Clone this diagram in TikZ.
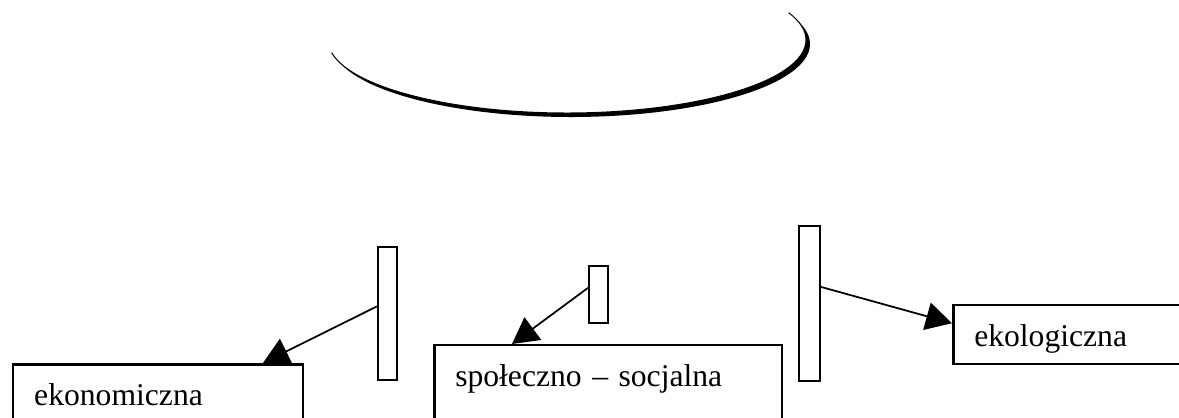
\documentclass[tikz,border=0pt]{standalone}
\usepackage{fontspec}
\setmainfont{Liberation Serif}
\usetikzlibrary{positioning, calc, arrows.meta}

\begin{document}
\begin{tikzpicture}[x=0.02cm, y=-0.02cm,
    box/.style={draw, fill=white, line width=0.05cm, anchor=north west,
      align=left, inner xsep=0.42cm, inner ysep=0.32cm, text height=0.5cm,
      font=\fontsize{18}{22}\selectfont},
    bar/.style={draw, fill=white, line width=0.035cm, inner sep=0pt,
      anchor=north west},
    >={Triangle[length=0.52cm, width=0.56cm]}]

  \clip (0,0) rectangle (1179,418);

  % the ellipse on top, with its shadow
  \fill[shift={(4,4)}] (567,40) ++(170:239 and 73)
    arc[start angle=170, end angle=-22, x radius=239, y radius=73] -- cycle;
  \fill[white] (567,40) ++(170:239 and 73)
    arc[start angle=170, end angle=-22, x radius=239, y radius=73] -- cycle;
  \draw[line width=0.02cm] (567,40) ++(170:239 and 73)
    arc[start angle=170, end angle=-22, x radius=239, y radius=73];

  \node[box, text width=4.96cm, text depth=0.8cm] (Ekon) at (12,363) {ekonomiczna};
  \node[box, text width=6.12cm, text depth=0.8cm] (Spol) at (433,344) {społeczno – socjalna};
  \node[box, text width=3.96cm, text depth=0.04cm] (Ekol) at (952,304) {ekologiczna};

  \node[bar, minimum width=0.38cm, minimum height=2.66cm] (A) at (377,246) {};
  \node[bar, minimum width=0.38cm, minimum height=1.14cm] (B) at (588,265) {};
  \node[bar, minimum width=0.42cm, minimum height=3.1cm] (C) at (798,225) {};

  \draw[->, line width=0.035cm] ([yshift=0.14cm]A.west) -- ([xshift=5.02cm]Ekon.north west);
  \draw[->, line width=0.035cm] ([yshift=0.13cm]B.west) -- ([xshift=1.58cm]Spol.north west);
  \draw[->, line width=0.035cm] ([yshift=0.33cm]C.east) -- ([yshift=0.23cm]Ekol.west);
\end{tikzpicture}
\end{document}
